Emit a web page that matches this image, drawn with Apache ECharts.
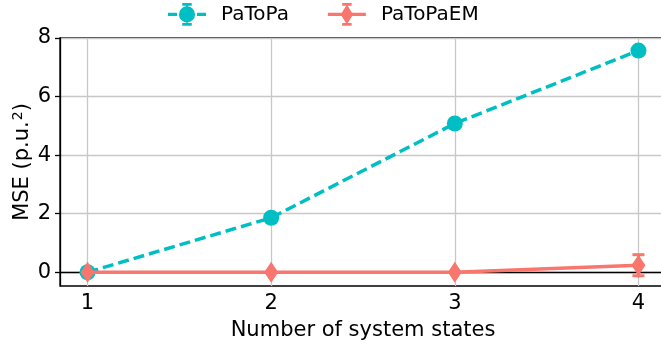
<!DOCTYPE html>
<html>
<head>
<meta charset="utf-8">
<script src="https://cdn.jsdelivr.net/npm/echarts@6/dist/echarts.min.js"></script>
<style>
  html, body { margin: 0; padding: 0; background: #fff; overflow: hidden; }
  #chart { width: 666px; height: 345px; }
</style>
</head>
<body>
<div id="chart"></div>
<script>
// Number of system states on the x axis
const states = [1, 2, 3, 4];
// Mean squared error for each method, with its spread
const patopa = [0.0, 1.86, 5.08, 7.57];
const patopaErr = [0.0, 0.0, 0.0, 0.0];
const patopaem = [0.0, 0.0, 0.0, 0.24];
const patopaemErr = [0.0, 0.0, 0.0, 0.36];
const yTicks = [0, 2, 4, 6, 8];

const CYAN = '#00BFC4';
const SALMON = '#F8766D';
const FONT = 'DejaVu Sans';
const FS = 21;

const chart = echarts.init(document.getElementById('chart'), null, { renderer: 'canvas' });

function pairs(xs, ys) { return xs.map((x, i) => [x, ys[i]]); }
function errData(xs, ys, es) { return xs.map((x, i) => [x, ys[i] - es[i], ys[i] + es[i]]); }

function errorBars(color) {
  return function (params, api) {
    const x = api.value(0);
    const lo = api.coord([x, api.value(1)]);
    const hi = api.coord([x, api.value(2)]);
    if (Math.abs(hi[1] - lo[1]) < 0.5) return null;
    const cap = 6;
    const style = { stroke: color, lineWidth: 3 };
    return {
      type: 'group',
      children: [
        { type: 'line', shape: { x1: lo[0], y1: lo[1], x2: hi[0], y2: hi[1] }, style },
        { type: 'line', shape: { x1: lo[0] - cap, y1: lo[1], x2: lo[0] + cap, y2: lo[1] }, style },
        { type: 'line', shape: { x1: hi[0] - cap, y1: hi[1], x2: hi[0] + cap, y2: hi[1] }, style }
      ]
    };
  };
}

// Legend glyphs: line + marker + error-bar caps (40 x 24 box)
const iconCircle = 'path://M0 10.3H9.5V13.7H0Z M30.5 10.3H40V13.7H30.5Z M28.5 12A8.5 8.5 0 1 1 11.5 12A8.5 8.5 0 1 1 28.5 12Z ' +
  'M15 0H25V3H15Z M15 21H25V24H15Z M19 3H21V4H19Z M19 20H21V21H19Z';
const iconDiamond = 'path://M0 10.3H40V13.7H0Z M20 1.5L26.5 12L20 22.5L13.5 12Z M15 0H25V3H15Z M15 21H25V24H15Z';

const option = {
  backgroundColor: '#ffffff',
  animation: false,
  textStyle: { fontFamily: FONT },
  legend: {
    top: 3,
    left: 168,
    padding: 0,
    itemWidth: 38,
    itemHeight: 24,
    itemGap: 39,
    textStyle: { fontFamily: FONT, fontSize: 20, color: '#000', padding: [2, 0, 0, 10] },
    data: [
      { name: 'PaToPa', icon: iconCircle, itemStyle: { color: CYAN } },
      { name: 'PaToPaEM', icon: iconDiamond, itemStyle: { color: SALMON } }
    ]
  },
  grid: {
    left: 60, top: 38, bottom: 59, right: 0,
    outerBoundsMode: 'none',
    containLabel: false,
    show: true, borderColor: '#000', borderWidth: 1.3
  },
  xAxis: {
    type: 'value',
    min: 0.85, max: 4.15,
    name: 'Number of system states',
    nameLocation: 'middle',
    nameGap: 34,
    nameMoveOverlap: false,
    nameTextStyle: { fontFamily: FONT, fontSize: FS, color: '#000' },
    axisLine: { show: true, lineStyle: { color: '#000', width: 1.3 } },
    axisTick: { show: true, inside: false, length: 5, lineStyle: { color: '#000', width: 1.3 }, customValues: states },
    axisLabel: { fontFamily: FONT, fontSize: FS, color: '#000', margin: 7, customValues: states },
    splitLine: { show: true, lineStyle: { color: '#c8c8c8', width: 1.3 } }
  },
  yAxis: {
    type: 'value',
    min: -0.47, max: 8,
    name: 'MSE (p.u.{sup|2})',
    nameLocation: 'middle',
    nameGap: 25,
    nameMoveOverlap: false,
    nameTextStyle: {
      fontFamily: FONT, fontSize: FS, color: '#000',
      rich: { sup: { fontFamily: FONT, fontSize: 14, color: '#000', padding: [0, 0, 10, 1] } }
    },
    axisLine: { show: true, lineStyle: { color: '#000', width: 1.3 } },
    axisTick: { show: true, inside: false, length: 5, lineStyle: { color: '#000', width: 1.3 }, customValues: yTicks },
    axisLabel: { fontFamily: FONT, fontSize: FS, color: '#000', margin: 9, customValues: yTicks },
    splitLine: { show: true, lineStyle: { color: '#c8c8c8', width: 1.3 } }
  },
  series: [
    {
      name: 'PaToPa',
      type: 'line',
      data: pairs(states, patopa),
      lineStyle: { color: CYAN, width: 3.5, type: [11, 5] },
      itemStyle: { color: CYAN, opacity: 1 },
      symbol: 'circle',
      symbolSize: 16,
      z: 3
    },
    {
      name: 'PaToPa',
      type: 'custom',
      renderItem: errorBars(CYAN),
      data: errData(states, patopa, patopaErr),
      encode: { x: 0, y: [1, 2] },
      z: 3,
      silent: true
    },
    {
      name: 'PaToPaEM',
      type: 'line',
      data: pairs(states, patopaem),
      lineStyle: { color: SALMON, width: 3.5 },
      itemStyle: { color: SALMON, opacity: 1 },
      symbol: 'diamond',
      symbolSize: [14, 21],
      z: 4
    },
    {
      name: 'PaToPaEM',
      type: 'custom',
      renderItem: errorBars(SALMON),
      data: errData(states, patopaem, patopaemErr),
      encode: { x: 0, y: [1, 2] },
      z: 4,
      silent: true
    }
  ]
};

chart.setOption(option);
</script>
</body>
</html>
